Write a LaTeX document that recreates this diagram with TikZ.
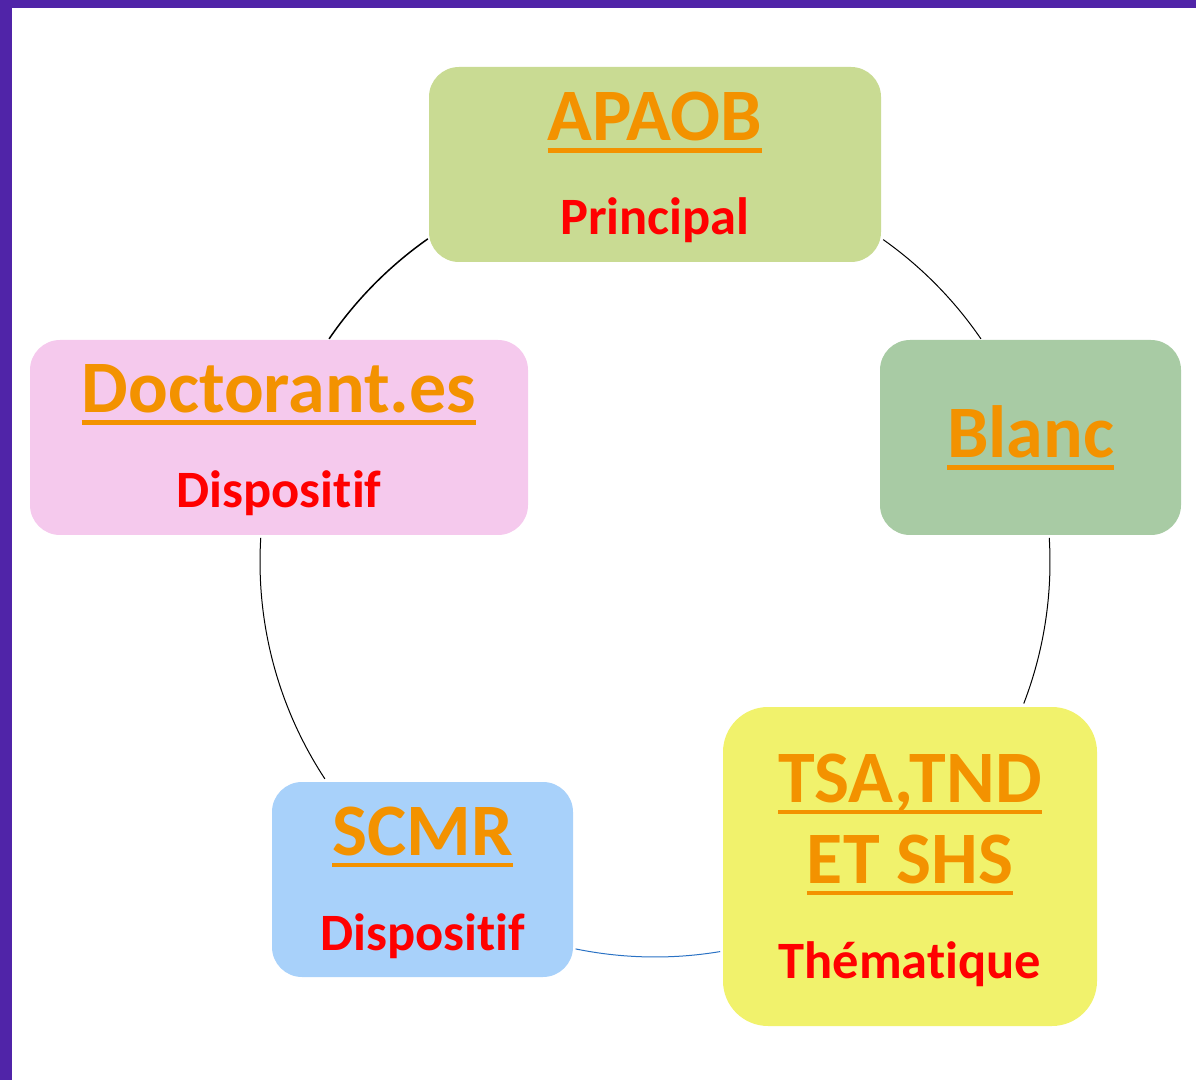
\documentclass[tikz,border=0pt]{standalone}
\usepackage{fontspec}
\setmainfont{Carlito}[Ligatures=NoCommon]

\definecolor{frame}{HTML}{5024A8}
\definecolor{apricot}{HTML}{F39200}
\definecolor{pea}{HTML}{C9DB93}
\definecolor{sage}{HTML}{A8CBA4}
\definecolor{lemon}{HTML}{F1F26C}
\definecolor{sky}{HTML}{A8D1FA}
\definecolor{blush}{HTML}{F5C9ED}
\definecolor{linkblue}{HTML}{2A72C4}

\newcommand\ulword[1]{\setbox0\hbox{#1}\rlap{\rule[-12pt]{\wd0}{4.5pt}}\box0}

\begin{document}
\begin{tikzpicture}[
    x=1pt, y=1pt,
    box/.style={rectangle, rounded corners=30pt, inner sep=0pt},
    title/.style={anchor=base, inner sep=0pt, text=apricot,
        font=\bfseries\fontsize{74}{80}\selectfont},
    role/.style={anchor=base, inner sep=0pt, text=red,
        font=\bfseries\fontsize{52.5}{58}\selectfont},
    link/.style={black, line width=1pt}
]
    \useasboundingbox (0,0) rectangle (1196,1080);
    \fill[frame] (0,1072) rectangle (1196,1080);
    \fill[frame] (0,0) rectangle (12,1080);

    \coordinate (hub) at (655,518);

    % the cycle
    \draw[link] ([shift={(54.7:395)}]hub) arc[start angle=54.7, end angle=34.4, radius=395];
    \draw[link] ([shift={(3.5:395)}]hub) arc[start angle=3.5, end angle=-21, radius=395];
    \draw[link, linkblue] ([shift={(-80.5:395)}]hub) arc[start angle=-80.5, end angle=-101.6, radius=395];
    \draw[link] ([shift={(-146.7:395)}]hub) arc[start angle=-146.7, end angle=-183.5, radius=395];
    \draw[link, line width=1.5pt] ([shift={(145.6:395)}]hub) arc[start angle=145.6, end angle=125.1, radius=395];

    \node[box, fill=pea, minimum width=452pt, minimum height=195pt] (apaob) at (655,915.5) {};
    \node[box, fill=sage, minimum width=301pt, minimum height=195pt] (blanc) at (1030.5,642.5) {};
    \node[box, fill=lemon, rounded corners=45pt, minimum width=374pt, minimum height=319pt] (tsa) at (910,213.5) {};
    \node[box, fill=sky, minimum width=301pt, minimum height=195pt] (scmr) at (422.5,200.5) {};
    \node[box, fill=blush, minimum width=498pt, minimum height=195pt] (doct) at (279,642.5) {};

    \node[title] (apaob-t) at (655,939) {\ulword{APAOB}};
    \node[role] (apaob-r) at (655,845) {Principal};
    \node[title] (blanc-t) at (1030.5,622) {\ulword{Blanc}};
    \node[title] (tsa-t1) at (910,278) {\ulword{TSA,TND}};
    \node[title] (tsa-t2) at (910,197) {\ulword{ET SHS}};
    \node[role] (tsa-r) at (910,102) {Thématique};
    \node[title] (scmr-t) at (422.5,225) {\ulword{SCMR}};
    \node[role] (scmr-r) at (422.5,130) {Dispositif};
    \node[title] (doct-t) at (279,667) {\ulword{Doctorant.es}};
    \node[role] (doct-r) at (279,572) {Dispositif};
\end{tikzpicture}
\end{document}
